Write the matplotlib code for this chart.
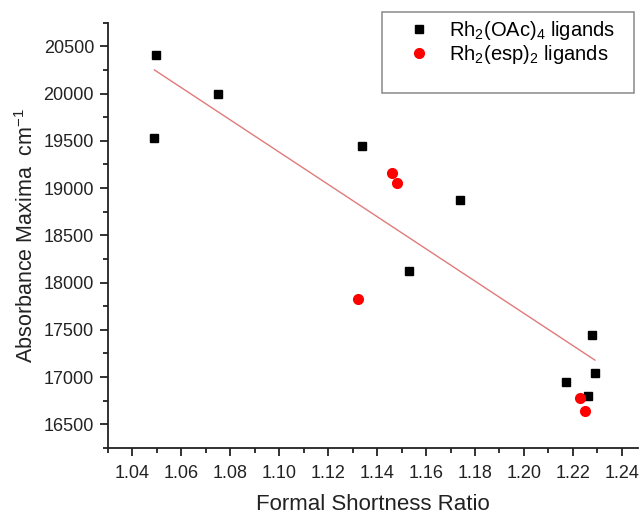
import matplotlib
matplotlib.use("Agg")
import matplotlib.pyplot as plt
from matplotlib.ticker import MultipleLocator
from matplotlib.lines import Line2D

plt.rcParams['font.family'] = ['Liberation Sans', 'DejaVu Sans']
plt.rcParams['mathtext.default'] = 'regular'

# Rh2(OAc)4 ligands
oac_x = [1.0495, 1.049, 1.075, 1.134, 1.174, 1.153, 1.228, 1.229, 1.217, 1.226]
oac_y = [20410, 19530, 20000, 19450, 18870, 18120, 17450, 17040, 16950, 16800]
# Rh2(esp)2 ligands
esp_x = [1.146, 1.148, 1.132, 1.223, 1.225]
esp_y = [19155, 19050, 17830, 16780, 16640]
# linear fit line endpoints
fit_x = [1.049, 1.229]
fit_y = [20250, 17180]

fig = plt.figure(figsize=(6.39, 5.14), dpi=100)
ax = fig.add_axes([0.169, 0.1284, 0.829, 0.8274])

ax.plot(fit_x, fit_y, color='#e07a7a', lw=1.0, zorder=1)
h1, = ax.plot(oac_x, oac_y, 's', color='black', ms=6, ls='none',
              label='Rh$_2$(OAc)$_4$ ligands', zorder=3)
h2, = ax.plot(esp_x, esp_y, 'o', color='red', ms=7, ls='none',
              label='Rh$_2$(esp)$_2$ ligands', zorder=3)
blank = Line2D([], [], ls='none', marker=None)

ax.set_xlim(1.03, 1.2465)
ax.set_ylim(16250, 20750)
ax.xaxis.set_major_locator(MultipleLocator(0.02))
ax.xaxis.set_minor_locator(MultipleLocator(0.01))
ax.yaxis.set_major_locator(MultipleLocator(500))
ax.yaxis.set_minor_locator(MultipleLocator(250))
ax.xaxis.set_major_formatter(matplotlib.ticker.FormatStrFormatter('%.2f'))

ax.spines['top'].set_visible(False)
ax.spines['right'].set_visible(False)
for s in ('left', 'bottom'):
    ax.spines[s].set_linewidth(1.3)
    ax.spines[s].set_color('#222222')

ax.tick_params(which='major', direction='out', length=6, width=1.3, labelsize=13,
               colors='#222222', pad=6)
ax.tick_params(axis='y', which='major', pad=4)
ax.tick_params(which='minor', direction='out', length=3.5, width=1.3, colors='#222222')

ax.set_xlabel('Formal Shortness Ratio', fontsize=16, color='#222222', labelpad=9)
ax.set_ylabel('Absorbance Maxima  cm$^{-1}$', fontsize=15.5, color='#222222', labelpad=4)

leg = fig.legend([h1, h2, blank],
                 [h1.get_label() + '   ', h2.get_label() + '   ', ' '],
                 loc='upper right', bbox_to_anchor=(634 / 639, 1 - 12 / 514),
                 borderaxespad=0, fontsize=14.5,
                 frameon=True, fancybox=False, edgecolor='#777777',
                 handletextpad=0.0, borderpad=0.35, labelspacing=0.05,
                 handlelength=3.0)
leg.get_frame().set_linewidth(1.2)

fig.savefig('out.png', dpi=100, facecolor='white')
